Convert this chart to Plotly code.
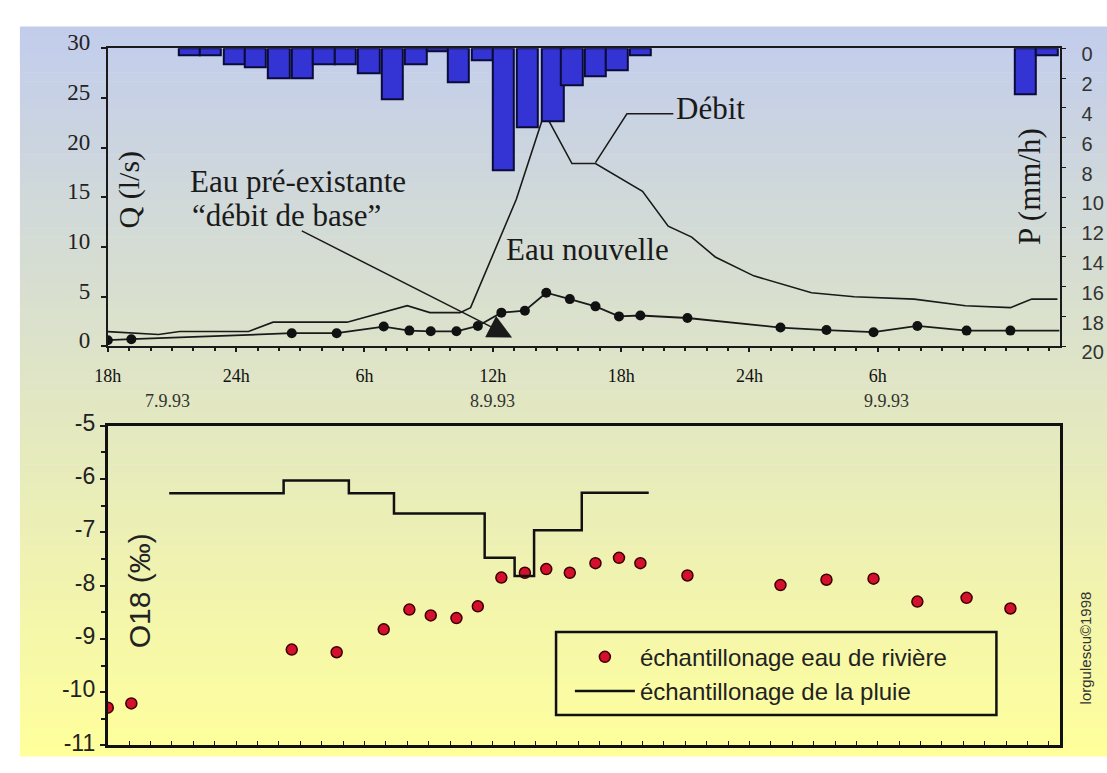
import plotly.graph_objects as go

W, H = 1107, 773

# ---------------- data ----------------
# time axis: hours since 7.9.93 18h
x_end = 44.5
tick_hours = [0, 6, 12, 18, 24, 30, 36]
tick_labels = ["18h", "24h", "6h", "12h", "18h", "24h", "6h"]
date_hours = [2.8, 18.0, 36.4]
date_labels = ["7.9.93", "8.9.93", "9.9.93"]

# hourly rainfall P (mm/h), bar centres in hours
rain_h = [3.8, 4.8, 5.9, 6.9, 8.0, 9.1, 10.1, 11.1, 12.2, 13.3, 14.4, 15.4,
          16.4, 17.5, 18.5, 19.6, 20.8, 21.7, 22.8, 23.8, 24.9, 42.9, 43.9]
rain_p = [0.5, 0.5, 1.05, 1.25, 2.0, 2.0, 1.05, 1.05, 1.7, 3.45, 1.05, 0.2,
          2.3, 0.8, 8.2, 5.3, 4.9, 2.5, 1.9, 1.5, 0.45, 3.1, 0.45]

# total discharge Q (l/s) "Débit"
debit_h = [0, 2.37, 3.36, 6.58, 7.73, 11.19, 14.0, 15.06, 16.47, 16.96, 19.1,
           20.42, 21.7, 22.8, 25.0, 26.2, 27.3, 28.4, 30.2, 32.9, 34.9, 37.7,
           40.1, 42.2, 43.2, 44.4]
debit_q = [1.49, 1.2, 1.5, 1.5, 2.44, 2.44, 4.1, 3.4, 3.4, 3.9, 14.8,
           23.5, 18.4, 18.4, 15.6, 12.1, 11.0, 9.0, 7.1, 5.4, 5.0, 4.76,
           4.1, 3.9, 4.76, 4.76]

# river sampling times (hours) - pre-event water discharge and O18
sample_h = [0, 1.1, 8.6, 10.7, 12.9, 14.1, 15.1, 16.3, 17.3, 18.4, 19.5, 20.5,
            21.6, 22.8, 23.9, 24.9, 27.1, 31.45, 33.6, 35.8, 37.85, 40.15, 42.2]
q_base = [0.63, 0.73, 1.33, 1.33, 2.0, 1.59, 1.52, 1.52, 2.06, 3.4, 3.59, 5.4,
          4.76, 4.03, 3.02, 3.11, 2.86, 1.9, 1.65, 1.43, 2.06, 1.59, 1.59]
o18_river = [-10.29, -10.21, -9.20, -9.25, -8.82, -8.45, -8.56, -8.61, -8.39,
             -7.85, -7.76, -7.69, -7.76, -7.58, -7.48, -7.58, -7.81, -7.99,
             -7.89, -7.87, -8.30, -8.23, -8.43]

# rain O18 (step function): interval starts and values
rain_o18_h = [2.87, 8.22, 11.27, 13.38, 17.62, 19.02, 19.93, 22.16, 25.29]
rain_o18 = [-6.27, -6.03, -6.27, -6.65, -7.48, -7.82, -6.96, -6.26, -6.26]

o18_ticks = [-11, -10, -9, -8, -7, -6, -5]
o18_ticktext = ["-11", "-10", "-9", "-8", "-7", "-6", "-5"]

# ---------------- layout helpers ----------------
def px(x, y):
    return x / W, 1 - y / H

XD = [95 / W, 1059 / W]
YTOP = [1 - 344 / H, 1 - 31.7 / H]
YBOT = [1 - 762 / H, 1 - 427 / H]

SERIF = "Liberation Serif, Times New Roman, serif"
SANS = "Liberation Sans, Arial, sans-serif"
INK = "#1a1a1a"

fig = go.Figure()

fig.add_trace(go.Bar(
    x=rain_h, y=rain_p, xaxis="x", yaxis="y2", width=1.0,
    marker=dict(color="#3434d4", line=dict(color="#0b0b3a", width=2)),
    showlegend=False, hoverinfo="skip"))

fig.add_trace(go.Scatter(
    x=debit_h, y=debit_q, xaxis="x", yaxis="y", mode="lines",
    line=dict(color=INK, width=1.6), showlegend=False, hoverinfo="skip"))

fig.add_trace(go.Scatter(
    x=sample_h + [x_end], y=q_base + [q_base[-1]], xaxis="x", yaxis="y",
    mode="lines", line=dict(color=INK, width=1.8),
    showlegend=False, hoverinfo="skip"))
fig.add_trace(go.Scatter(
    x=sample_h, y=q_base, xaxis="x", yaxis="y", mode="markers",
    marker=dict(color="#111111", size=10),
    showlegend=False, hoverinfo="skip"))

fig.add_trace(go.Scatter(
    x=sample_h, y=o18_river, xaxis="x2", yaxis="y3", mode="markers",
    name="échantillonage eau de rivière",
    marker=dict(color="#d4102c", size=11, line=dict(color="#3a0000", width=1.5))))

fig.add_trace(go.Scatter(
    x=rain_o18_h, y=rain_o18, xaxis="x2", yaxis="y3", mode="lines",
    line=dict(color="#111111", width=2.5, shape="hv"),
    name="échantillonage de la pluie"))

# ---------------- background gradient ----------------
shapes = []
top_c = (194, 205, 236)
bot_c = (255, 255, 156)
y0px, y1px = 9, 773
n = 80
for i in range(n):
    t = i / (n - 1)
    c = tuple(round(top_c[k] + (bot_c[k] - top_c[k]) * t) for k in range(3))
    ya = y0px + (y1px - y0px) * i / n
    yb = y0px + (y1px - y0px) * (i + 1) / n + 0.6
    shapes.append(dict(type="rect", xref="paper", yref="paper",
                       x0=6 / W, x1=1, y0=1 - yb / H, y1=1 - ya / H,
                       fillcolor="rgb(%d,%d,%d)" % c, line=dict(width=0),
                       layer="below"))

# leader line for "Débit"
shapes.append(dict(type="path", xref="x", yref="y",
                   path="M22.8,18.5 L24.27,23.4 L26.44,23.4",
                   line=dict(color=INK, width=1.5)))

# legend frame
lx0, ly0 = px(549, 643)
lx1, ly1 = px(995, 730)
shapes.append(dict(type="rect", xref="paper", yref="paper",
                   x0=lx0, x1=lx1, y0=ly1, y1=ly0,
                   line=dict(color="#111111", width=2.5)))

annotations = []
for h, lab in zip(date_hours, date_labels):
    annotations.append(dict(x=h, xref="x", y=1 - 401 / H, yref="paper",
                            text=lab, showarrow=False,
                            font=dict(family=SERIF, size=18, color="#333333")))

def txt(x, y, s, size, family=SERIF, angle=0, anchor="left", color=INK):
    xx, yy = px(x, y)
    annotations.append(dict(x=xx, y=yy, xref="paper", yref="paper", text=s,
                            showarrow=False, textangle=angle, xanchor=anchor,
                            yanchor="middle",
                            font=dict(family=family, size=size, color=color)))

txt(116, 180, "Q (l/s)", 30, angle=-90, anchor="center")
txt(1028, 176, "P (mm/h)", 31, angle=-90, anchor="center")
txt(176, 171, "Eau pré-existante", 31)
txt(178, 207, "“débit de base”", 31)
txt(496, 242, "Eau nouvelle", 31)
txt(668, 95, "Débit", 31)
txt(127, 600, "O18 (‰)", 30, family=SANS, angle=-90, anchor="center", color="#222222")
txt(1085, 660, "lorgulescu©1998", 15, family=SANS, angle=-90, anchor="center", color="#333333")

annotations.append(dict(x=18.9, y=0.9, xref="x", yref="y",
                        ax=9.0, ay=11.7, axref="x", ayref="y",
                        text="", showarrow=True, arrowhead=2, arrowsize=3.2,
                        arrowwidth=1.5, arrowcolor=INK))

fig.update_layout(
    width=W, height=H,
    margin=dict(l=0, r=0, t=0, b=0),
    paper_bgcolor="white",
    plot_bgcolor="rgba(0,0,0,0)",
    shapes=shapes,
    annotations=annotations,
    bargap=0,
    hovermode=False,
    xaxis=dict(domain=XD, anchor="y", range=[0, x_end],
               tickmode="array", tickvals=tick_hours, ticktext=tick_labels,
               ticks="outside", ticklen=4, tickcolor=INK, tickwidth=1.5,
               minor=dict(tickmode="linear", tick0=0, dtick=1, ticks="outside",
                          ticklen=3, tickcolor=INK),
               showline=True, linecolor=INK, linewidth=2, mirror=True,
               showgrid=False, zeroline=False, ticklabelstandoff=8,
               tickfont=dict(family=SERIF, size=18, color="#111111")),
    yaxis=dict(domain=YTOP, anchor="x", range=[0, 30], dtick=5,
               ticks="outside", ticklen=5, tickcolor=INK, tickwidth=1.5,
               showline=True, linecolor=INK, linewidth=2,
               showgrid=False, zeroline=False, ticklabelstandoff=6,
               ticklabelshift=-6,
               tickfont=dict(family=SERIF, size=23, color="#222222")),
    yaxis2=dict(domain=YTOP, anchor="x", overlaying="y", side="right",
                range=[20, 0], dtick=2, ticks="outside", ticklen=4,
                tickcolor=INK, showline=True, linecolor=INK, linewidth=2,
                showgrid=False, zeroline=False, ticklabelstandoff=12,
                ticklabelshift=-6,
                tickfont=dict(family=SANS, size=20, color="#333333")),
    xaxis2=dict(domain=XD, anchor="y3", range=[0, x_end], dtick=1, tick0=0,
                ticks="inside", ticklen=4, tickcolor=INK, showticklabels=False,
                showline=True, linecolor="#111111", linewidth=3, mirror=True,
                showgrid=False, zeroline=False),
    yaxis3=dict(domain=YBOT, anchor="x2", range=[-11, -5],
                tickmode="array", tickvals=o18_ticks, ticktext=o18_ticktext,
                ticks="outside", ticklen=5, tickcolor=INK, tickwidth=1.5,
                minor=dict(tickmode="linear", tick0=-11, dtick=0.5,
                           ticks="outside", ticklen=4, tickcolor=INK),
                showline=True, linecolor="#111111", linewidth=3, mirror=True,
                showgrid=False, zeroline=False, ticklabelshift=-3,
                tickfont=dict(family=SANS, size=23, color="#222222")),
    legend=dict(x=563 / W, y=1 - 646 / H, xanchor="left", yanchor="top",
                bgcolor="rgba(0,0,0,0)", borderwidth=0,
                itemwidth=60, tracegroupgap=0,
                font=dict(family=SANS, size=24, color="#222222")),
)

fig.write_html("out.html")
